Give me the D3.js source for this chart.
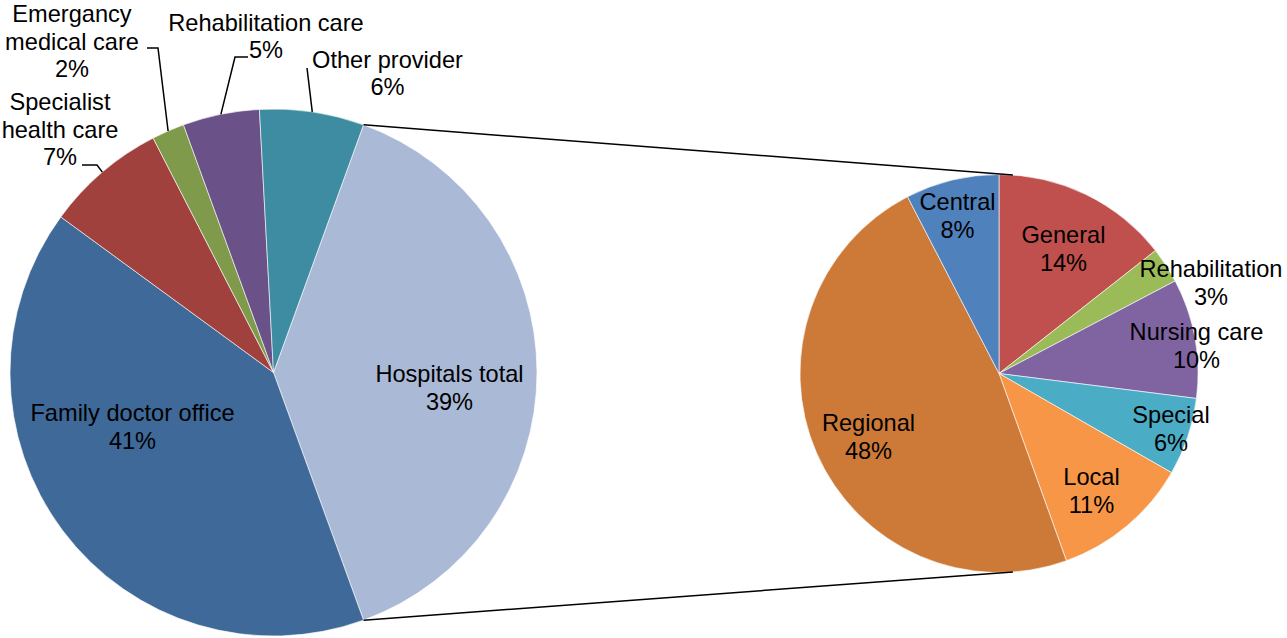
<!DOCTYPE html>
<html>
<head>
<meta charset="utf-8">
<script src="https://cdn.jsdelivr.net/npm/d3@7"></script>
<style>
    html, body { margin: 0; padding: 0; background: #fff; }
    svg text { font-family: "Liberation Sans", Arial, sans-serif; font-size: 23.6px; fill: #000; }
</style>
</head>
<body>
<div id="chart"></div>
<script>
// main pie (clockwise, starting with the split-off slice), percent of total
const mainNames = ["Hospitals total", "Family doctor office", "Specialist health care", "Emergancy medical care", "Rehabilitation care", "Other provider"];
const mainValues = [38.9, 40.6, 7.4, 2.0, 4.7, 6.4];
const mainColors = ["#AAB9D6", "#3F6998", "#A0413E", "#7F9A4A", "#6A5188", "#3D8CA1"];

// secondary pie: breakdown of hospitals (clockwise from 12 o'clock)
const subNames = ["General", "Rehabilitation", "Nursing care", "Special", "Local", "Regional", "Central"];
const subValues = [14.4, 2.9, 9.7, 6.3, 11.2, 47.9, 7.6];
const subColors = ["#C0504D", "#9BBB59", "#8064A2", "#4BACC6", "#F79646", "#CD7A38", "#4F81BD"];

const canvasWidth = 1287;
const canvasHeight = 638;
const lineHeight = 27.5;

// label layout: [centre x, first baseline y, name lines]
const mainLabels = [
    [449.5, 382, ["Hospitals total"]],
    [132.5, 421, ["Family doctor office"]],
    [60, 110, ["Specialist", "health care"]],
    [72, 22, ["Emergancy", "medical care"]],
    [266, 30.5, ["Rehabilitation care"]],
    [387.5, 67.5, ["Other provider"]],
];
// leader line start points (label side), null for labels inside
const leaderStarts = [
    null,
    null,
    [[82, 165], [97, 165]],
    [[147, 48], [158, 48]],
    [[248, 57], [235, 57]],
    [[307, 68]],
];
const subLabels = [
    [1063.5, 243, ["General"]],
    [1211, 277, ["Rehabilitation"]],
    [1196.5, 340, ["Nursing care"]],
    [1171, 423, ["Special"]],
    [1091.5, 485, ["Local"]],
    [868.5, 431, ["Regional"]],
    [957.5, 210, ["Central"]],
];

const svg = d3
    .select("#chart")
    .append("svg")
    .attr("width", canvasWidth)
    .attr("height", canvasHeight);

const polar = (cx, cy, r, a) => [cx + r * Math.sin(a), cy - r * Math.cos(a)];

// main pie
const mainCx = 273.5, mainCy = 372.5, mainR = 263.5;
const total = d3.sum(mainValues);
const hospitalShare = mainValues[0] / total;
const mainStart = Math.PI / 2 - hospitalShare * Math.PI;

const mainPie = d3
    .pie()
    .sort(null)
    .startAngle(mainStart)
    .endAngle(mainStart + 2 * Math.PI)
    .value((d) => d)(mainValues);

const mainArc = d3.arc().innerRadius(0).outerRadius(mainR);

svg
    .append("g")
    .attr("transform", `translate(${mainCx}, ${mainCy})`)
    .selectAll("path")
    .data(mainPie)
    .enter()
    .append("path")
    .attr("d", mainArc)
    .style("fill", (d, i) => mainColors[i])
    .style("stroke", "#fff")
    .style("stroke-width", 0.6);

// secondary pie
const subCx = 999, subCy = 373.5, subR = 199;

const subPie = d3
    .pie()
    .sort(null)
    .value((d) => d)(subValues);

const subArc = d3.arc().innerRadius(0).outerRadius(subR);

svg
    .append("g")
    .attr("transform", `translate(${subCx}, ${subCy})`)
    .selectAll("path")
    .data(subPie)
    .enter()
    .append("path")
    .attr("d", subArc)
    .style("fill", (d, i) => subColors[i])
    .style("stroke", "#fff")
    .style("stroke-width", 0.6);

// connector lines between the pies
const connOffset = (4 * Math.PI) / 180;
const connectors = [
    [polar(mainCx, mainCy, mainR, mainPie[0].startAngle), polar(subCx, subCy, subR, connOffset)],
    [polar(mainCx, mainCy, mainR, mainPie[0].endAngle), polar(subCx, subCy, subR, Math.PI - connOffset)],
];
svg
    .selectAll("line.conn")
    .data(connectors)
    .enter()
    .append("line")
    .attr("class", "conn")
    .attr("x1", (d) => d[0][0])
    .attr("y1", (d) => d[0][1])
    .attr("x2", (d) => d[1][0])
    .attr("y2", (d) => d[1][1])
    .style("stroke", "#000")
    .style("stroke-width", 1.5);

// leader lines for the outside labels
mainPie.forEach((d, i) => {
    if (!leaderStarts[i]) return;
    const mid = (d.startAngle + d.endAngle) / 2;
    const pts = [...leaderStarts[i], polar(mainCx, mainCy, mainR, mid)];
    svg
        .append("polyline")
        .attr("points", pts.map((p) => p.join(",")).join(" "))
        .style("fill", "none")
        .style("stroke", "#000")
        .style("stroke-width", 1.5);
});

// labels: name lines + rounded percentage
const drawLabels = (labels, values) => {
    const sum = d3.sum(values);
    labels.forEach(([x, y, lines], i) => {
        const allLines = [...lines, `${Math.round((values[i] / sum) * 100)}%`];
        const t = svg
            .append("text")
            .attr("text-anchor", "middle")
            .attr("x", x)
            .attr("y", y);
        allLines.forEach((line, j) => {
            t.append("tspan")
                .attr("x", x)
                .attr("y", y + j * lineHeight)
                .text(line);
        });
    });
};

drawLabels(mainLabels, mainValues);
drawLabels(subLabels, subValues);
</script>
</body>
</html>
